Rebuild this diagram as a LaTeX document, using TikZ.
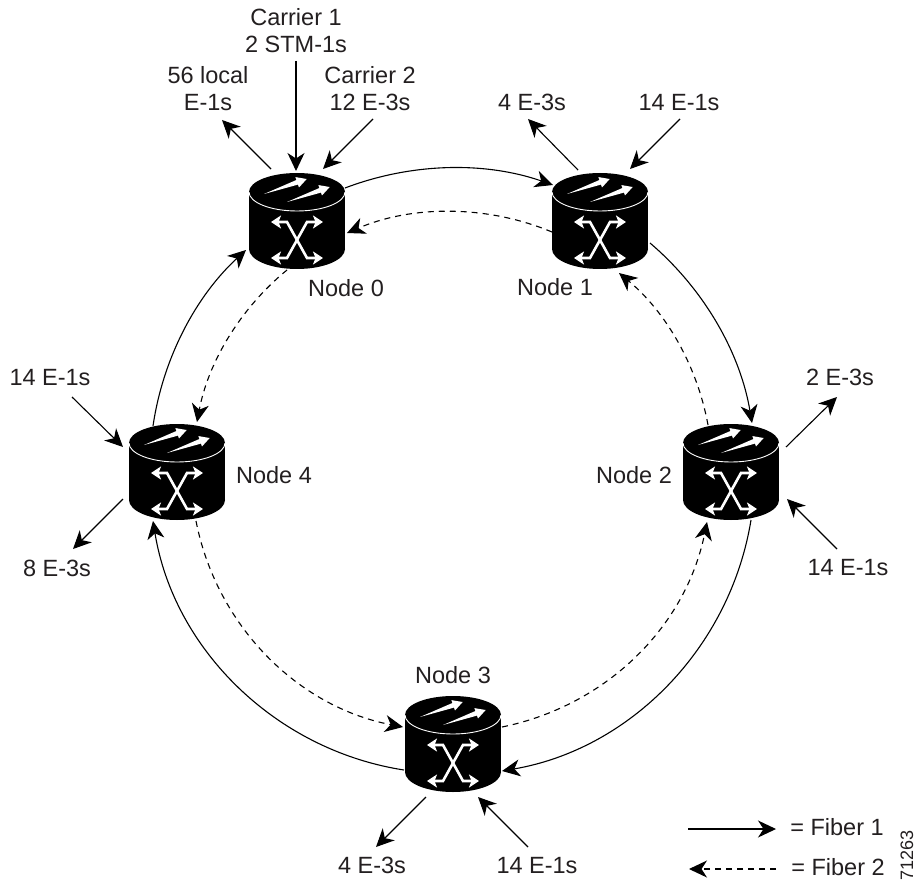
\documentclass[tikz,border=0pt]{standalone}
\usepackage{fontspec}
\setmainfont{Liberation Sans}
\usetikzlibrary{arrows.meta}
\definecolor{ink}{HTML}{231F20}
\tikzset{
  router/.style={inner sep=0pt,outer sep=0pt,minimum width=96pt,minimum height=96pt},
  lbl/.style={font=\fontsize{23.5}{27}\selectfont,text=ink,inner sep=0pt,outer sep=0pt,align=center},
  lb/.style={lbl,anchor=base},
  conn/.style={line width=1.1pt,-{Stealth[length=18pt,width=17pt,inset=5.5pt]}},
  fiberone/.style={conn},
  fibertwo/.style={conn,dash pattern=on 6pt off 5pt},
  arcbig/.style={looseness=.94},
  arcsmall/.style={looseness=.88},
  pics/routersym/.style={code={
    \fill[black] (0,-29) ellipse[x radius=48pt,y radius=19pt];
    \fill[black] (0,28) ellipse[x radius=48pt,y radius=20pt];
    \fill[black] (-48,-29) rectangle (48,28);
    \draw[white,line width=.9pt] (-48,-29) .. controls (-48,-18.5) and (-26.5,-10) .. (0,-10) .. controls (26.5,-10) and (48,-18.5) .. (48,-29);
    \fill[white] (-33,-27) -- (1,-36.4) -- (2,-33.5) -- (9.7,-42) -- (-1.6,-43.9) -- (-.6,-41) -- cycle;
    \fill[white,shift={(23,8)}] (-33,-27) -- (1,-36.4) -- (2,-33.5) -- (9.7,-42) -- (-1.6,-43.9) -- (-.6,-41) -- cycle;
    \draw[white,line width=2.6pt,{Stealth[length=10pt,width=13pt,inset=2.5pt]}-{Stealth[length=10pt,width=13pt,inset=2.5pt]}] (-26,1) -- (-10,1) -- (10,37) -- (26,37);
    \draw[white,line width=2.6pt,{Stealth[length=10pt,width=13pt,inset=2.5pt]}-{Stealth[length=10pt,width=13pt,inset=2.5pt]}] (26,1) -- (10,1) -- (-10,37) -- (-26,37);
  }}
}
\begin{document}
\begin{tikzpicture}[x=1pt,y=-1pt]
\useasboundingbox (0,0) rectangle (917,882);
% routers
\node[router] (n0) at (297,221) {};
\node[router] (n1) at (600,221) {};
\node[router] (n2) at (731,472) {};
\node[router] (n3) at (453,744) {};
\node[router] (n4) at (177,472) {};
\pic at (n0.center) {routersym};
\pic at (n1.center) {routersym};
\pic at (n2.center) {routersym};
\pic at (n3.center) {routersym};
\pic at (n4.center) {routersym};
% node labels
\node[lb] (t0) at (346,297) {Node 0};
\node[lb] (t1) at (555,295) {Node 1};
\node[lb] (t2) at (634,483) {Node 2};
\node[lb] (t3) at (453,683) {Node 3};
\node[lb] (t4) at (274,483) {Node 4};
% traffic labels
\node[lbl] (c1) at (296,31) {Carrier 1\\2 STM-1s};
\node[lbl] (l56) at (208,89) {56 local\\E-1s};
\node[lbl] (c2) at (370,89) {Carrier 2\\12 E-3s};
\node[lb] (a1) at (532,111) {4 E-3s};
\node[lb] (b1) at (679,111) {14 E-1s};
\node[lb] (a2) at (840,385) {2 E-3s};
\node[lb] (b2) at (848,575) {14 E-1s};
\node[lb] (a3) at (372,873) {4 E-3s};
\node[lb] (b3) at (537,873) {14 E-1s};
\node[lb] (b4) at (50,385) {14 E-1s};
\node[lb] (a4) at (57,576) {8 E-3s};
% free ends
\coordinate (e56) at (222,120);
\coordinate (ec1) at (296,61);
\coordinate (ec2) at (373,119);
\coordinate (ea1) at (528,119);
\coordinate (eb1) at (680,119);
\coordinate (ea2) at (837,397);
\coordinate (eb2) at (837,549);
\coordinate (ea3) at (376,847);
\coordinate (eb3) at (528,847);
\coordinate (eb4) at (72,397);
\coordinate (ea4) at (73,549);
% local arrows
\draw[conn] ([shift={(-26,-52)}]n0.center) -- (e56);
\draw[conn] (ec1) -- ([shift={(-1,-50)}]n0.center);
\draw[conn] (ec2) -- ([shift={(26,-52)}]n0.center);
\draw[conn] ([shift={(-22,-51)}]n1.center) -- (ea1);
\draw[conn] (eb1) -- ([shift={(30,-52)}]n1.center);
\draw[conn] ([shift={(55,-25)}]n2.center) -- (ea2);
\draw[conn] (eb2) -- ([shift={(56,27)}]n2.center);
\draw[conn] ([shift={(-27,53)}]n3.center) -- (ea3);
\draw[conn] (eb3) -- ([shift={(25,53)}]n3.center);
\draw[conn] (eb4) -- ([shift={(-54,-25)}]n4.center);
\draw[conn] ([shift={(-54,27)}]n4.center) -- (ea4);
% fiber 1
\draw[fiberone] ([shift={(48,-33)}]n0.center) to[bend left=20,arcsmall] ([shift={(-47,-36)}]n1.center);
\draw[fiberone] ([shift={(50,22)}]n1.center) to[bend left=20,arcsmall] ([shift={(21,-49)}]n2.center);
\draw[fiberone] ([shift={(20,48)}]n2.center) to[bend left=35.5,arcbig] ([shift={(49,27)}]n3.center);
\draw[fiberone] ([shift={(-49,26)}]n3.center) to[bend left=36,arcbig] ([shift={(-24,49)}]n4.center);
\draw[fiberone] ([shift={(-24,-46)}]n4.center) to[bend left=19.5,arcsmall] ([shift={(-51,29)}]n0.center);
% fiber 2
\draw[fibertwo] ([shift={(-48,11)}]n1.center) to[bend right=23,arcsmall] ([shift={(50,12)}]n0.center);
\draw[fibertwo] ([shift={(-23,-47)}]n2.center) to[bend right=20,arcsmall] ([shift={(19,52)}]n1.center);
\draw[fibertwo] ([shift={(49,-17)}]n3.center) to[bend right=33.5,arcbig] ([shift={(-24,50)}]n2.center);
\draw[fibertwo] ([shift={(19,49)}]n4.center) to[bend right=34,arcbig] ([shift={(-50,-17)}]n3.center);
\draw[fibertwo] ([shift={(-10,49)}]n0.center) to[bend right=20,arcsmall] ([shift={(20,-50)}]n4.center);
% legend
\coordinate (k1a) at (688,829);
\coordinate (k1b) at (776,829);
\coordinate (k2a) at (776,869);
\coordinate (k2b) at (689,869);
\draw[fiberone] (k1a) -- (k1b);
\draw[fibertwo] (k2a) -- (k2b);
\node[lb] (f1) at (837,835) {= Fiber 1};
\node[lb] (f2) at (838,875) {= Fiber 2};
\node[lbl,font=\fontsize{18}{20}\selectfont,rotate=90] (id) at (907,855) {71263};
\end{tikzpicture}
\end{document}
